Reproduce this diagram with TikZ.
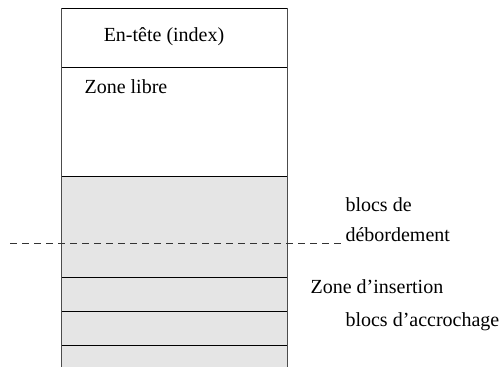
\documentclass[tikz,border=0pt]{standalone}
\usepackage{fontspec}
\setmainfont{Liberation Serif}
\usepackage{tikz}

\begin{document}
\begin{tikzpicture}[x=1pt, y=-1pt, font=\fontsize{20}{24}\selectfont]
    \useasboundingbox (0, 0) rectangle (501, 367);

    % zones of the page
    \fill[gray!20] (61, 176) rectangle (287, 367);
    \draw[thin] (61, 8) -- (287, 8);
    \draw[thin] (61, 67) -- (287, 67);
    \draw[thin] (61, 176) -- (287, 176);
    \draw[thin] (61, 277) -- (287, 277);
    \draw[thin] (61, 311) -- (287, 311);
    \draw[thin] (61, 345) -- (287, 345);
    \draw[thin, black!70] (61, 8) -- (61, 367);
    \draw[thin, black!70] (287, 8) -- (287, 367);

    \node (entete) at (164, 37) {En-tête (index)};
    \node[anchor=west] (libre) at (81, 87) {Zone libre};

    \node[anchor=west] (blocs) at (342, 205) {blocs de};
    \node[anchor=west] (debord) at (342, 235) {débordement};
    \coordinate (dstart) at (10, 243);
    \draw[dashed, dash pattern=on 7pt off 5pt, black!80] (dstart) -- (debord.west |- dstart);

    \node[anchor=west] (insert) at (307, 287) {Zone d’insertion};
    \node[anchor=west] (accroche) at (342, 322) {blocs d’accrochage};
\end{tikzpicture}
\end{document}
